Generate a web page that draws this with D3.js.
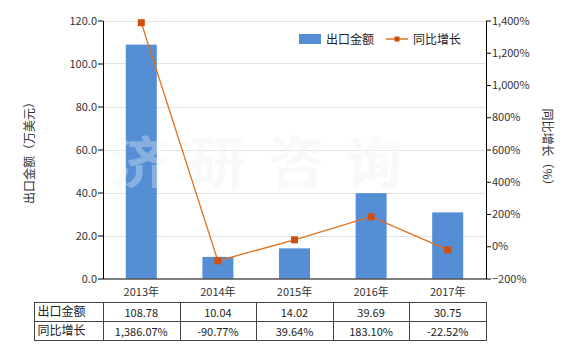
<!DOCTYPE html>
<html><head><meta charset="utf-8">
<script src="https://cdn.jsdelivr.net/npm/d3@7"></script>
<style>body{margin:0;background:#fff}svg{display:block;font-family:"Noto Sans CJK SC","Noto Sans",sans-serif}</style>
</head><body><svg id="c" width="580" height="350"></svg>
<script>
const categories = ["2013年","2014年","2015年","2016年","2017年"];
const exportValues = [108.78, 10.04, 14.02, 39.69, 30.75];
const growthValues = [1386.07, -90.77, 39.64, 183.10, -22.52];
const exportLabels = ["108.78","10.04","14.02","39.69","30.75"];
const growthLabels = ["1,386.07%","-90.77%","39.64%","183.10%","-22.52%"];
const leftTicks = [0,20,40,60,80,100,120];
const rightTicks = [-200,0,200,400,600,800,1000,1200,1400];
const seriesNames = ["出口金额","同比增长"];

const svg = d3.select("#c");
const L=103, R=486, T=20.5, B=278.5;
const xc = d3.scaleBand().domain(categories).range([L,R]);
const y = d3.scaleLinear().domain([0,120]).range([B,T]);
const y2 = d3.scaleLinear().domain([-200,1400]).range([B,T]);
const txt="#333";

// gridlines
svg.append("g").selectAll("line").data(leftTicks.filter(d=>d>0)).join("line")
  .attr("x1",L).attr("x2",R).attr("y1",d=>Math.round(y(d))+0.5).attr("y2",d=>Math.round(y(d))+0.5)
  .attr("stroke","#e4e4e4").attr("stroke-width",1);

// watermark
svg.append("text").attr("x",268).attr("y",183).attr("text-anchor","middle")
  .attr("font-size",56).attr("font-weight","bold").attr("letter-spacing",22)
  .attr("fill","#e6ecee").attr("opacity",0.35).text("济研咨询");

// bars
const bw = 31;
svg.append("g").selectAll("rect").data(exportValues).join("rect")
  .attr("x",(d,i)=>xc(categories[i])+xc.bandwidth()/2-bw/2).attr("width",bw)
  .attr("y",d=>y(d)).attr("height",d=>B-y(d)).attr("fill","#558ed5");

// watermark overlay on bars
svg.append("text").attr("x",268).attr("y",183).attr("text-anchor","middle")
  .attr("font-size",56).attr("font-weight","bold").attr("letter-spacing",22)
  .attr("fill","#ffffff").attr("opacity",0.3).text("济研咨询");

// axes
const ga = svg.append("g").attr("transform",`translate(${L},0)`)
  .call(d3.axisLeft(y).tickValues(leftTicks).tickFormat(d3.format(".1f")).tickSize(5).tickSizeOuter(0));
const gr = svg.append("g").attr("transform",`translate(${R},0)`)
  .call(d3.axisRight(y2).tickValues(rightTicks).tickFormat(d=>d3.format(",")(d)+"%").tickSize(5).tickSizeOuter(0));
const gb = svg.append("g").attr("transform",`translate(0,${B})`)
  .call(d3.axisBottom(xc).tickSize(0).tickSizeOuter(0));
[ga,gr,gb].forEach(g=>{
  g.selectAll("path,line").attr("stroke","#000");
  g.selectAll("text").attr("fill",txt).attr("font-size",11).attr("font-family",'"Noto Sans CJK SC",sans-serif');
});
gb.selectAll("text").attr("dy","1.3em");
gb.select("path").attr("d",`M${L},0.5H${R}`);
ga.selectAll("text").attr("x",-6);
gr.selectAll("text").attr("x",6);

// line
const line = d3.line().x((d,i)=>xc(categories[i])+xc.bandwidth()/2).y(d=>y2(d));
svg.append("path").datum(growthValues).attr("d",line).attr("fill","none").attr("stroke","#e0701e").attr("stroke-width",1.3);
svg.append("g").selectAll("rect").data(growthValues).join("rect")
  .attr("x",(d,i)=>xc(categories[i])+xc.bandwidth()/2-3.5).attr("y",d=>y2(d)-3.5)
  .attr("width",7).attr("height",7).attr("fill","#cf4f12");

// axis titles
svg.append("text").attr("transform","translate(34,150) rotate(-90)").attr("text-anchor","middle")
  .attr("font-size",12).attr("fill",txt).text("出口金额（万美元）");
svg.append("text").attr("transform","translate(543,150) rotate(90)").attr("text-anchor","middle")
  .attr("font-size",12).attr("fill",txt).text("同比增长（%）");

// legend
svg.append("rect").attr("x",299).attr("y",34).attr("width",22).attr("height",10).attr("fill","#558ed5");
svg.append("text").attr("x",326).attr("y",43.5).attr("font-size",12).attr("fill","#222").text(seriesNames[0]);
svg.append("line").attr("x1",386).attr("x2",408).attr("y1",39).attr("y2",39).attr("stroke","#e0701e").attr("stroke-width",1.5);
svg.append("rect").attr("x",394.5).attr("y",36.5).attr("width",5).attr("height",5).attr("fill","#cf4f12");
svg.append("text").attr("x",413).attr("y",43.5).attr("font-size",12).attr("fill","#222").text(seriesNames[1]);

// table
const tT=302.5, tM=321.5, tB=340.5, tL=34.5;
const cols = [tL, ...categories.map(c=>Math.round(xc(c))+0.5), R+0.5];
const tg = svg.append("g");
tg.append("rect").attr("x",tL).attr("y",tT).attr("width",R+0.5-tL).attr("height",tB-tT).attr("fill","none").attr("stroke","#444");
tg.append("line").attr("x1",tL).attr("x2",R+0.5).attr("y1",tM).attr("y2",tM).attr("stroke","#444");
tg.selectAll("line.v").data(cols.slice(1,-1)).join("line").attr("class","v")
  .attr("x1",d=>d).attr("x2",d=>d).attr("y1",tT).attr("y2",tB).attr("stroke","#444");
const rows = [[seriesNames[0],exportLabels],[seriesNames[1],growthLabels]];
rows.forEach((r,ri)=>{
  const yy = (ri===0? (tT+tM)/2 : (tM+tB)/2) + 4;
  tg.append("text").attr("x",tL+3).attr("y",yy).attr("font-size",12).attr("fill","#222").text(r[0]);
  r[1].forEach((v,i)=>{
    tg.append("text").attr("x",xc(categories[i])+xc.bandwidth()/2).attr("y",yy+1).attr("text-anchor","middle")
      .attr("font-size",11).attr("fill","#222").text(v);
  });
});
</script></body></html>
